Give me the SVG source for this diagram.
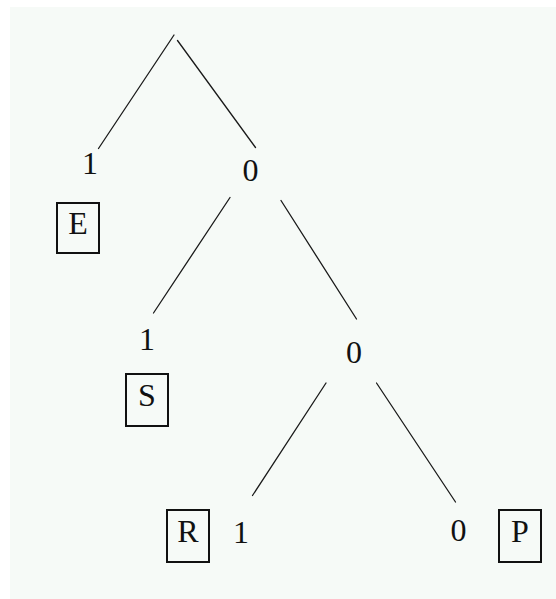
<svg xmlns="http://www.w3.org/2000/svg" width="556" height="599" viewBox="0 0 556 599">
<style>
.bg{fill:#f6faf7}
.edge{stroke:#1a1a1a;stroke-width:1.3;fill:none;stroke-linecap:round}
.lbl{font-family:"Liberation Serif","Times New Roman",serif;font-size:32px;fill:#111;text-anchor:middle}
.box{fill:none;stroke:#111;stroke-width:2}
</style>
<rect x="0" y="0" width="556" height="599" fill="#ffffff"/>
<rect class="bg" x="10" y="7" width="546" height="592"/>
<g id="connectors">
<line class="edge" x1="174" y1="35" x2="98.5" y2="148.5"/>
<line class="edge" x1="177.5" y1="40.5" x2="255.5" y2="147.5"/>
<line class="edge" x1="230" y1="197.5" x2="153.5" y2="313"/>
<line class="edge" x1="281" y1="200.5" x2="356.5" y2="319"/>
<line class="edge" x1="326" y1="383" x2="252.5" y2="495.5"/>
<line class="edge" x1="376.5" y1="383" x2="455.5" y2="502"/>
<text class="lbl" x="90" y="174">1</text>
<text class="lbl" x="250.5" y="181">0</text>
<text class="lbl" x="147" y="350">1</text>
<text class="lbl" x="354" y="363">0</text>
<text class="lbl" x="241" y="543">1</text>
<text class="lbl" x="458.5" y="541">0</text>
</g>
<g id="node-E">
<rect class="box" x="57" y="203" width="42" height="50"/>
<text class="lbl" x="78" y="233.5">E</text>
</g>
<g id="node-S">
<rect class="box" x="126" y="374" width="42" height="52"/>
<text class="lbl" x="147" y="406">S</text>
</g>
<g id="node-R">
<rect class="box" x="167" y="510" width="42" height="52"/>
<text class="lbl" x="188" y="541.5">R</text>
</g>
<g id="node-P">
<rect class="box" x="499" y="510" width="42" height="52"/>
<text class="lbl" x="520" y="541.5">P</text>
</g>
</svg>
